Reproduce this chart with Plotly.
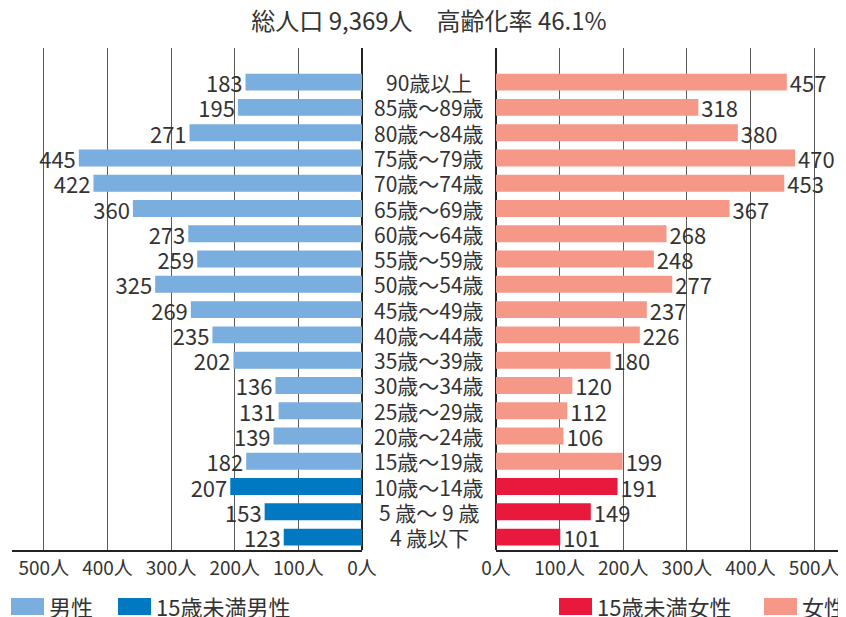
import plotly.graph_objects as go

categories = ["90歳以上", "85歳～89歳", "80歳～84歳", "75歳～79歳", "70歳～74歳",
              "65歳～69歳", "60歳～64歳", "55歳～59歳", "50歳～54歳", "45歳～49歳",
              "40歳～44歳", "35歳～39歳", "30歳～34歳", "25歳～29歳", "20歳～24歳",
              "15歳～19歳", "10歳～14歳", "5 歳～ 9 歳", "4 歳以下"]
male = [183, 195, 271, 445, 422, 360, 273, 259, 325, 269, 235, 202, 136, 131, 139, 182, 207, 153, 123]
female = [457, 318, 380, 470, 453, 367, 268, 248, 277, 237, 226, 180, 120, 112, 106, 199, 191, 149, 101]
under15 = [False] * 16 + [True] * 3
tick_vals = [0, 100, 200, 300, 400, 500]
tick_text = ["0人", "100人", "200人", "300人", "400人", "500人"]
title_text = "総人口 9,369人　高齢化率 46.1%"
legend_left = ["男性", "15歳未満男性"]
legend_right = ["15歳未満女性", "女性"]

C_M = "#7aaede"
C_M15 = "#0079c2"
C_F = "#f59888"
C_F15 = "#e8193c"
TXT = "#333333"
FONT = "Noto Sans CJK JP"

# the page body adds an 8px margin; lay the figure out in window coordinates
OFF = 8
WIN_W, WIN_H = 846, 617
W, H = WIN_W - OFF, WIN_H - OFF
# plot area in window pixels
PL, PR, PT, PB = 12, 846, 48, 550
ML, MR, MT, MB = PL - OFF, WIN_W - PR, PT - OFF, WIN_H - PB
PW, PH = W - ML - MR, H - MT - MB


def px(x):
    return (x - PL) / PW


def py(y):
    return (PB - y) / PH


fig = go.Figure()
fig.add_trace(go.Bar(
    y=categories, x=male, orientation="h", xaxis="x", yaxis="y",
    marker=dict(color=[C_M15 if u else C_M for u in under15], line=dict(width=0)),
    text=male, textposition="outside", constraintext="none", cliponaxis=False,
    textfont=dict(size=22, color=TXT, family=FONT), showlegend=False, hoverinfo="x+y"))
fig.add_trace(go.Bar(
    y=categories, x=female, orientation="h", xaxis="x2", yaxis="y",
    marker=dict(color=[C_F15 if u else C_F for u in under15], line=dict(width=0)),
    text=female, textposition="outside", constraintext="none", cliponaxis=False,
    textfont=dict(size=22, color=TXT, family=FONT), showlegend=False, hoverinfo="x+y"))

# middle labels
for c in categories:
    fig.add_annotation(x=px(429), xref="paper", y=c, yref="y", text=c, showarrow=False,
                       font=dict(size=21, color=TXT, family=FONT), xanchor="center", yanchor="middle")


def legend_item(x0, color, label):
    fig.add_shape(type="rect", xref="paper", yref="paper",
                  x0=px(x0), x1=px(x0 + 33), y0=py(598), y1=py(615),
                  fillcolor=color, line=dict(width=0))
    fig.add_annotation(x=px(x0 + 36), xref="paper", y=py(606), yref="paper",
                       text=label, showarrow=False, xanchor="left", yanchor="middle",
                       font=dict(size=22, color=TXT, family=FONT))


legend_item(11, C_M, legend_left[0])
legend_item(118, C_M15, legend_left[1])
legend_item(559, C_F15, legend_right[0])
legend_item(764, C_F, legend_right[1])

axis_common = dict(tickvals=tick_vals, ticktext=tick_text, showgrid=True, gridcolor="#5a5a5a",
                   gridwidth=1, zeroline=True, zerolinecolor="#222222", zerolinewidth=1.5,
                   showline=True, linecolor="#222222", linewidth=1.5, ticks="",
                   tickfont=dict(size=19, color=TXT, family=FONT), fixedrange=True,
                   automargin=False)

fig.update_layout(
    width=W, height=H, margin=dict(l=ML, r=MR, t=MT, b=MB, autoexpand=False),
    paper_bgcolor="white", plot_bgcolor="white",
    font=dict(family=FONT, color=TXT),
    bargap=0.33,
    title=dict(text=title_text, x=(429 - OFF) / W, xanchor="center", y=1 - (22 - OFF) / H,
               yanchor="middle", xref="container", yref="container", automargin=False,
               font=dict(size=24, color=TXT, family=FONT)),
    xaxis=dict(domain=[0, px(362)], range=[550, 0], anchor="y", **axis_common),
    xaxis2=dict(domain=[px(496), 1], range=[0, 550], anchor="y", **axis_common),
    yaxis=dict(type="category", categoryorder="array", categoryarray=categories[::-1],
               range=[-0.51, 19.35], showticklabels=False, showgrid=False, zeroline=False,
               showline=False, ticks="", fixedrange=True, automargin=False),
)

fig.write_html("out.html")
